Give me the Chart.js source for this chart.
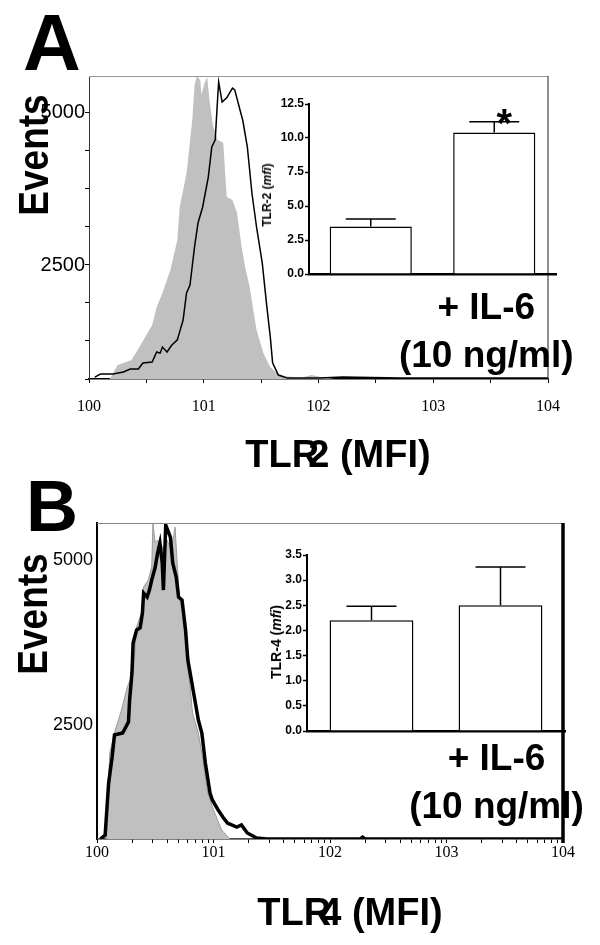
<!DOCTYPE html>
<html>
<head>
<meta charset="utf-8">
<script src="https://cdn.jsdelivr.net/npm/chart.js@4"></script>
<style>
  body { margin: 0; background: #fff; }
  #wrap { position: relative; width: 600px; height: 945px; overflow: hidden; font-family: "Liberation Sans", Arial, sans-serif; color: #000; }
  canvas { position: absolute; }
  .lbl { position: absolute; font-weight: bold; white-space: nowrap; line-height: 1; transform: translate(-50%, -50%); }
  .rot { transform: translate(-50%, -50%) rotate(-90deg) scale(1, 1.17); }
  .rot2 { transform: translate(-50%, -50%) rotate(-90deg); }
  .ov { margin-left: -11px; }
</style>
</head>
<body>
<div id="wrap">
  <canvas id="histA" width="600" height="470" style="left:0;top:0"></canvas>
  <canvas id="histB" width="600" height="475" style="left:0;top:470px"></canvas>
  <canvas id="barA" width="360" height="300" style="left:240px;top:90px"></canvas>
  <canvas id="barB" width="360" height="320" style="left:240px;top:530px"></canvas>

  <div class="lbl" style="left:52px;top:43px;font-size:80px">A</div>
  <div class="lbl" style="left:52px;top:506px;font-size:72px">B</div>
  <div class="lbl rot" style="left:33px;top:155px;font-size:37px">Events</div>
  <div class="lbl rot" style="left:32px;top:614px;font-size:37px">Events</div>
  <div class="lbl" style="left:338px;top:454px;font-size:38px">TLR<span class="ov">2</span> (MFI)</div>
  <div class="lbl" style="left:350px;top:912px;font-size:38px">TLR<span class="ov">4</span> (MFI)</div>
  <div class="lbl rot2" style="left:267px;top:195px;font-size:12px">TLR-2 (<i>mfi</i>)</div>
  <div class="lbl rot2" style="left:276px;top:642px;font-size:14px">TLR-4 (<i>mfi</i>)</div>
</div>

<script>
Chart.defaults.font.family = '"Liberation Sans", Arial, sans-serif';
Chart.defaults.color = '#000';

// x in decades (log10 of fluorescence), y in events

// panel A, control (grey fill)
var aCtrlX = [0, 0.18, 0.25, 0.30, 0.37, 0.44, 0.51, 0.55, 0.59, 0.64, 0.71, 0.77, 0.79, 0.85, 0.90, 0.92, 0.94, 0.97, 0.98, 1.01, 1.03, 1.05, 1.08, 1.12, 1.17, 1.20, 1.25, 1.29, 1.33, 1.36, 1.40, 1.46, 1.52, 1.58, 1.64, 1.71, 1.84, 1.94, 2.01, 2.14, 4.0];
var aCtrlY = [625, 625, 855, 888, 937, 1150, 1380, 1510, 1810, 2040, 2420, 2910, 3450, 4010, 4880, 5460, 5610, 5540, 5300, 5510, 5590, 5210, 4800, 4560, 4510, 3620, 3570, 3355, 2800, 2470, 2140, 1430, 1050, 820, 720, 670, 640, 690, 660, 625, 625];
// panel A, + IL-6 (black line)
var aIl6X = [0.05, 0.10, 0.21, 0.30, 0.36, 0.43, 0.47, 0.55, 0.59, 0.62, 0.64, 0.68, 0.72, 0.77, 0.79, 0.82, 0.85, 0.88, 0.92, 0.95, 0.99, 1.04, 1.07, 1.10, 1.12, 1.13, 1.16, 1.20, 1.25, 1.27, 1.32, 1.34, 1.38, 1.42, 1.46, 1.51, 1.55, 1.58, 1.60, 1.65, 1.73, 2.01, 2.21, 2.71, 4.0];
var aIl6Y = [657, 707, 707, 740, 789, 789, 888, 904, 1070, 1050, 1150, 1070, 1180, 1270, 1400, 1595, 2040, 2170, 2800, 3190, 3450, 3950, 4440, 4560, 5210, 5510, 5180, 5250, 5410, 5380, 5020, 4880, 4440, 3680, 3125, 2530, 1810, 1315, 890, 690, 640, 640, 657, 640, 640];

// panel B, control (grey fill)
var bCtrlX = [0, 0.08, 0.09, 0.11, 0.15, 0.21, 0.26, 0.31, 0.33, 0.34, 0.39, 0.40, 0.44, 0.47, 0.48, 0.50, 0.52, 0.56, 0.58, 0.60, 0.64, 0.67, 0.69, 0.71, 0.74, 0.77, 0.80, 0.82, 0.87, 0.91, 0.95, 1.00, 1.07, 1.14, 4.0];
var bCtrlY = [773, 773, 1364, 2076, 2380, 2728, 3076, 3288, 3742, 3985, 4242, 4591, 4697, 4894, 5561, 5258, 5303, 5197, 5152, 5303, 5152, 5500, 4894, 4394, 4197, 3485, 3076, 2682, 2379, 1970, 1470, 1212, 909, 773, 773];
// panel B, + IL-6 (black line)
var bIl6X = [0.03, 0.07, 0.09, 0.10, 0.13, 0.15, 0.22, 0.27, 0.28, 0.30, 0.31, 0.34, 0.37, 0.39, 0.40, 0.43, 0.45, 0.47, 0.50, 0.52, 0.54, 0.56, 0.57, 0.59, 0.63, 0.65, 0.68, 0.70, 0.73, 0.76, 0.78, 0.81, 0.84, 0.87, 0.90, 0.93, 0.97, 0.99, 1.04, 1.08, 1.12, 1.20, 1.24, 1.29, 1.37, 1.46, 2.26, 2.28, 2.30, 4.0];
var bIl6Y = [773, 833, 1364, 1622, 2015, 2349, 2379, 2546, 2879, 3288, 3742, 3940, 3970, 4197, 4500, 4439, 4545, 4697, 4894, 5106, 5258, 4955, 4545, 5530, 5348, 4955, 4742, 4439, 4394, 3940, 3485, 3182, 2879, 2576, 2379, 1924, 1470, 1364, 1212, 1106, 1015, 955, 985, 864, 788, 773, 773, 800, 773, 773];

var decadeLabels = ['100', '101', '102', '103', '104'];
var aYTicks = [625, 1250, 1875, 2500, 3125, 3750, 4375, 5000];
var bYTicks = [2500, 5000];
var yLabelled = [2500, 5000];

// insets: mean + sem
var insetLabels = ['', ['+ IL-6', '(10 ng/ml)']];
var tlr2Mean = [3.5, 10.4];
var tlr2Sem = [0.55, 0.8];
var tlr2Marks = ['', '*'];
var tlr4Mean = [2.2, 2.5];
var tlr4Sem = [0.28, 0.76];
var tlr4Marks = ['', ''];

function pts(xs, ys) {
  return xs.map(function (x, i) { return {x: x, y: ys[i]}; });
}

var framePlugin = {
  id: 'frame',
  afterDraw: function (chart, args, o) {
    var ctx = chart.ctx, a = chart.chartArea;
    ctx.save();
    ctx.strokeStyle = o.topColor;
    ctx.lineWidth = 1;
    ctx.beginPath();
    ctx.moveTo(a.left, a.top + 0.5);
    ctx.lineTo(a.right, a.top + 0.5);
    ctx.stroke();
    ctx.strokeStyle = o.rightColor;
    ctx.lineWidth = o.rightWidth;
    ctx.beginPath();
    ctx.moveTo(a.right, a.top);
    ctx.lineTo(a.right, a.bottom + o.rightExtend);
    ctx.stroke();
    ctx.restore();
  }
};

var errPlugin = {
  id: 'errbars',
  afterDatasetsDraw: function (chart, args, o) {
    var ctx = chart.ctx, y = chart.scales.y;
    var vals = chart.data.datasets[0].data;
    ctx.save();
    ctx.strokeStyle = '#000';
    ctx.lineWidth = 1.5;
    chart.getDatasetMeta(0).data.forEach(function (bar, i) {
      var top = y.getPixelForValue(vals[i] + o.sem[i]);
      ctx.beginPath();
      ctx.moveTo(bar.x, bar.y);
      ctx.lineTo(bar.x, top);
      ctx.moveTo(bar.x - 25, top);
      ctx.lineTo(bar.x + 25, top);
      ctx.stroke();
      if (o.marks[i]) {
        ctx.font = 'bold 40px "Liberation Sans", Arial, sans-serif';
        ctx.fillStyle = '#000';
        ctx.textAlign = 'center';
        ctx.fillText(o.marks[i], bar.x + 10, top + 15);
      }
    });
    ctx.restore();
  }
};

function histogram(id, ctrlX, ctrlY, il6X, il6Y, cfg) {
  return new Chart(document.getElementById(id), {
    type: 'line',
    data: {
      datasets: [
        { data: pts(il6X, il6Y), borderColor: '#000', borderWidth: cfg.lineWidth, fill: false, pointRadius: 0, tension: 0 },
        { data: pts(ctrlX, ctrlY), borderColor: cfg.ctrlBorder, borderWidth: cfg.ctrlBorderWidth, backgroundColor: '#c0c0c0', fill: 'start', pointRadius: 0, tension: 0 }
      ]
    },
    options: {
      responsive: false,
      animation: false,
      layout: { padding: cfg.padding },
      plugins: { legend: { display: false }, tooltip: { enabled: false }, frame: cfg.frame },
      scales: {
        x: {
          type: 'linear', min: 0, max: 4,
          afterBuildTicks: function (s) { s.ticks = cfg.xTicks.map(function (v) { return {value: v}; }); },
          afterFit: function (s) { s.height = cfg.xHeight; s.paddingLeft = 0; s.paddingRight = 0; },
          grid: { drawOnChartArea: false, tickLength: 4, color: '#000', tickWidth: 1 },
          border: { color: '#000', width: cfg.xBorder },
          ticks: {
            autoSkip: false, maxRotation: 0, padding: cfg.xPad, color: '#000',
            font: { family: '"Liberation Serif", "Times New Roman", serif', size: 16 },
            callback: function (v) { return Number.isInteger(v) ? decadeLabels[v] : ''; }
          }
        },
        y: {
          type: 'linear', min: cfg.yMin, max: cfg.yMax,
          afterBuildTicks: function (s) { s.ticks = cfg.yTicks.map(function (v) { return {value: v}; }); },
          afterFit: function (s) { s.width = cfg.yWidth; s.paddingTop = 0; s.paddingBottom = 0; },
          grid: { display: cfg.yGrid, drawOnChartArea: false, tickLength: 4, color: '#000' },
          border: { color: cfg.yBorderColor, width: cfg.yBorder },
          ticks: {
            autoSkip: false, padding: 0, color: '#000',
            font: { size: cfg.yFont },
            callback: function (v) { return yLabelled.indexOf(v) >= 0 ? String(v) : ''; }
          }
        }
      }
    },
    plugins: [framePlugin]
  });
}

var halfSteps = [0, 0.5, 1, 1.5, 2, 2.5, 3, 3.5, 4];
var logSteps = [];
for (var k = 0; k < 4; k++) {
  for (var m = 1; m < 10; m++) logSteps.push(k + Math.log10(m));
}
logSteps.push(4);

histogram('histA', aCtrlX, aCtrlY, aIl6X, aIl6Y, {
  lineWidth: 1.5, ctrlBorder: 'rgba(0,0,0,0)', ctrlBorderWidth: 0,
  padding: { left: 0, top: 76, right: 52, bottom: 0 },
  frame: { topColor: '#999', rightColor: '#222', rightWidth: 1, rightExtend: 0 },
  xTicks: halfSteps, xHeight: 91, xPad: 14, xBorder: 1.5,
  yMin: 625, yMax: 5608, yTicks: aYTicks, yWidth: 89, yGrid: true,
  yBorderColor: '#333', yBorder: 1, yFont: 20
});

histogram('histB', bCtrlX, bCtrlY, bIl6X, bIl6Y, {
  lineWidth: 3.5, ctrlBorder: '#9a9a9a', ctrlBorderWidth: 1,
  padding: { left: 0, top: 53, right: 37, bottom: 0 },
  frame: { topColor: '#888', rightColor: '#000', rightWidth: 3.5, rightExtend: 4 },
  xTicks: logSteps, xHeight: 106, xPad: 0, xBorder: 1.5,
  yMin: 773, yMax: 5561, yTicks: bYTicks, yWidth: 97, yGrid: false,
  yBorderColor: '#000', yBorder: 2, yFont: 18
});

function inset(id, mean, sem, marks, cfg) {
  return new Chart(document.getElementById(id), {
    type: 'bar',
    data: {
      labels: insetLabels,
      datasets: [{ data: mean, backgroundColor: '#fff', borderColor: '#000', borderWidth: 1.5, barPercentage: cfg.barPct, categoryPercentage: 1 }]
    },
    options: {
      responsive: false,
      animation: false,
      layout: { padding: cfg.padding },
      plugins: { legend: { display: false }, tooltip: { enabled: false }, errbars: { sem: sem, marks: marks } },
      scales: {
        x: {
          afterFit: function (s) { s.height = cfg.xHeight; s.paddingLeft = 0; s.paddingRight = 0; },
          grid: { display: false, drawTicks: false },
          border: { color: '#000', width: 2.5 },
          ticks: { autoSkip: false, maxRotation: 0, padding: cfg.xPad, labelOffset: cfg.labelShift, color: '#000', font: { size: 37, weight: 'bold', lineHeight: 1.3 } }
        },
        y: {
          min: 0, max: cfg.yMax,
          afterFit: function (s) { s.width = cfg.yWidth; },
          grid: { drawOnChartArea: false, tickLength: 4, color: '#000', tickWidth: 1.5 },
          border: { color: '#000', width: 2 },
          ticks: { stepSize: cfg.step, padding: 1, color: '#000', font: { size: 12, weight: 'bold' }, callback: function (v) { return v.toFixed(1); } }
        }
      }
    },
    plugins: [errPlugin]
  });
}

inset('barA', tlr2Mean, tlr2Sem, tlr2Marks, {
  barPct: 0.665, padding: { left: 0, top: 14, right: 44, bottom: 0 },
  xHeight: 116, xPad: 11, labelShift: -8, yMax: 12.5, step: 2.5, yWidth: 69
});
inset('barB', tlr4Mean, tlr4Sem, tlr4Marks, {
  barPct: 0.65, padding: { left: 0, top: 25, right: 35, bottom: 0 },
  xHeight: 119, xPad: 5, labelShift: -4, yMax: 3.5, step: 0.5, yWidth: 67
});
</script>
</body>
</html>
